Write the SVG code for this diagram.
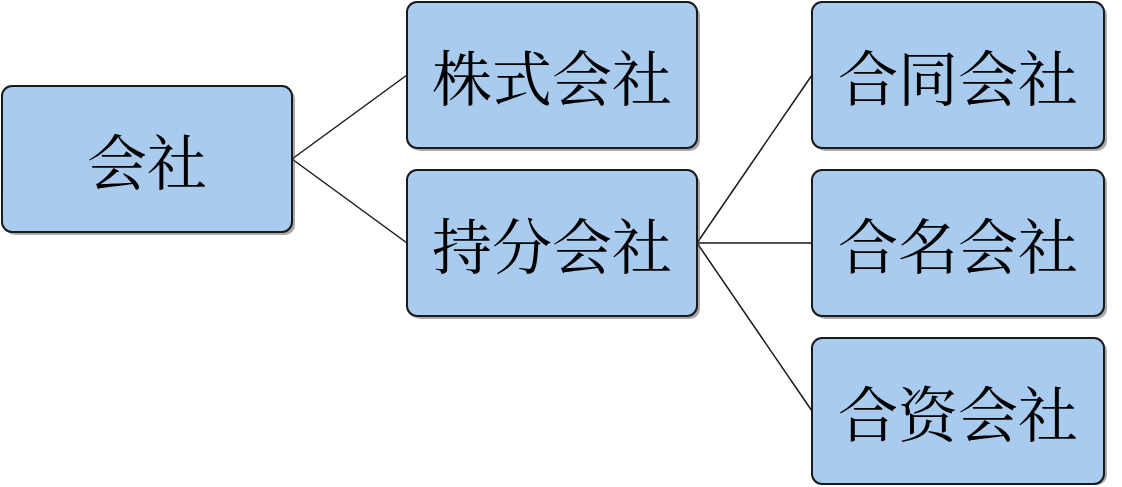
<svg xmlns="http://www.w3.org/2000/svg" width="1122" height="487" viewBox="0 0 1122 487">
<style>
.b{fill:#a9cbee;stroke:#1a1a1a;stroke-width:2}
.s{fill:#555;opacity:0.5}
.t{font-family:"Noto Serif CJK SC","Noto Sans CJK SC",serif;font-size:60px;fill:#000;text-anchor:middle;dominant-baseline:central}
.c{stroke:#1a1a1a;stroke-width:1.5;fill:none}
</style>
<rect width="1122" height="487" fill="#fff"/>
<g id="connectors">
<line class="c" x1="292" y1="159" x2="407" y2="75"/>
<line class="c" x1="292" y1="159" x2="407" y2="243"/>
<line class="c" x1="697" y1="243" x2="812" y2="75"/>
<line class="c" x1="697" y1="243" x2="812" y2="243"/>
<line class="c" x1="697" y1="243" x2="812" y2="411"/>
</g>
<g id="n0"><rect class="s" x="5" y="89" width="290" height="146" rx="10"/><rect class="b" x="2" y="86" width="290" height="146" rx="10"/><text class="t" x="147" y="159">会社</text></g>
<g id="n1"><rect class="s" x="410" y="5" width="290" height="146" rx="10"/><rect class="b" x="407" y="2" width="290" height="146" rx="10"/><text class="t" x="552" y="75">株式会社</text></g>
<g id="n2"><rect class="s" x="410" y="173" width="290" height="146" rx="10"/><rect class="b" x="407" y="170" width="290" height="146" rx="10"/><text class="t" x="552" y="243">持分会社</text></g>
<g id="n3"><rect class="s" x="815" y="5" width="292" height="146" rx="10"/><rect class="b" x="812" y="2" width="292" height="146" rx="10"/><text class="t" x="958" y="75">合同会社</text></g>
<g id="n4"><rect class="s" x="815" y="173" width="292" height="146" rx="10"/><rect class="b" x="812" y="170" width="292" height="146" rx="10"/><text class="t" x="958" y="243">合名会社</text></g>
<g id="n5"><rect class="s" x="815" y="341" width="292" height="144" rx="10"/><rect class="b" x="812" y="338" width="292" height="146" rx="10"/><text class="t" x="958" y="411">合资会社</text></g>
</svg>
